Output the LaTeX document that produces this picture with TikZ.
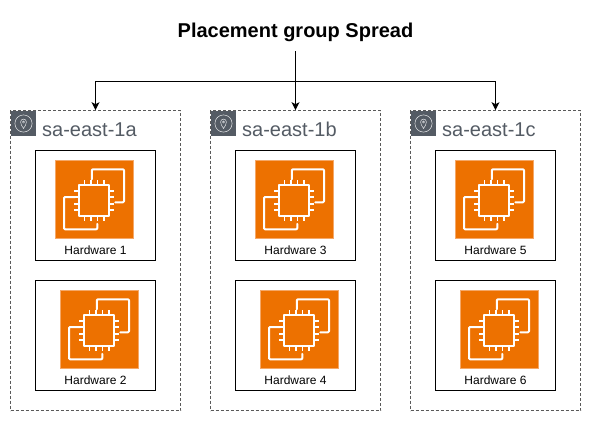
\documentclass[tikz,border=0pt]{standalone}
\usepackage{fontspec}
\setmainfont{Liberation Sans}
\usetikzlibrary{arrows.meta}
\definecolor{ec2orange}{HTML}{ED7100}
\definecolor{ec2edge}{HTML}{F5A868}
\definecolor{zonegrey}{HTML}{545B64}
\tikzset{
  x=1pt,y=-1pt,
  zonebox/.style={draw=black!65,dashed,dash pattern=on 3pt off 2pt,line width=0.7pt,minimum width=170pt,minimum height=300pt,inner sep=0pt},
  hwbox/.style={draw=black,line width=0.9pt,minimum width=120pt,minimum height=110pt,inner sep=0pt},
  hwlabel/.style={font=\fontsize{12}{14}\selectfont,inner sep=0pt,text=black},
  zonelabel/.style={font=\fontsize{20}{24}\selectfont,text=zonegrey,inner sep=0pt,anchor=west},
  titlenode/.style={font=\bfseries\fontsize{20}{24}\selectfont,inner sep=0pt,minimum height=38pt},
  link/.style={draw=black,line width=0.9pt,-{Stealth[length=8pt,width=8pt,inset=2pt]}},
  whiteline/.style={draw=white,line width=2pt,line join=round,line cap=round},
  ec2icon/.pic={
    \path[fill=ec2orange,draw=ec2edge,line width=0.7pt] (0,0) rectangle (78,78);
    \path[whiteline,rounded corners=1pt] (36.5,19) -- (36.5,9) -- (68.7,9) -- (68.7,42) -- (60,42);
    \path[whiteline,rounded corners=1pt] (20,36.7) -- (8.7,36.7) -- (8.7,69) -- (42,69) -- (42,63.5);
    \path[whiteline,line width=2.2pt] (23.8,25) rectangle (54,55.3);
    \foreach \p in {5.5,12,18.5,25}{
      \path[whiteline,line width=1.7pt,line cap=butt] (23.8+\p,25) -- (23.8+\p,20);
      \path[whiteline,line width=1.7pt,line cap=butt] (23.8+\p,55.3) -- (23.8+\p,60.3);
      \path[whiteline,line width=1.7pt,line cap=butt] (23.8,25+\p) -- (18.8,25+\p);
      \path[whiteline,line width=1.7pt,line cap=butt] (54,25+\p) -- (59,25+\p);
    }
  },
  zonetag/.pic={
    \path[fill=zonegrey] (0,0) rectangle (25,25);
    \path[draw=white!85!zonegrey,line width=0.5pt] (12.5,12.5) circle (8.6);
    \path[draw=white!85!zonegrey,line width=0.5pt,line join=round] (12.5,17.5) .. controls (11,15) and (9.6,13.3) .. (9.6,11) .. controls (9.6,9.2) and (10.9,8.1) .. (12.5,8.1) .. controls (14.1,8.1) and (15.4,9.2) .. (15.4,11) .. controls (15.4,13.3) and (14,15) .. (12.5,17.5) -- cycle;
    \path[draw=white!85!zonegrey,line width=0.5pt] (12.5,11) circle (1.1);
  }
}
\begin{document}
\begin{tikzpicture}
\useasboundingbox (0,0) rectangle (591,421);

\node[titlenode] (title) at (295.5,32) {Placement group Spread};

\node[zonebox] (zoneA) at (95.5,260.5) {};
\node[zonebox] (zoneB) at (295.5,260.5) {};
\node[zonebox] (zoneC) at (495.5,260.5) {};

\coordinate (bus) at (295.5,81);
\draw[link] (title.south) -- (zoneB.north);
\draw[link] (bus) -| (zoneA.north);
\draw[link] (bus) -| (zoneC.north);

\pic at (11,111) {zonetag};
\pic at (211,111) {zonetag};
\pic at (411,111) {zonetag};
\node[zonelabel] (labA) at (42,129.5) {sa-east-1a};
\node[zonelabel] (labB) at (242,129.5) {sa-east-1b};
\node[zonelabel] (labC) at (442,129.5) {sa-east-1c};

\node[hwbox] (hw1) at (95.5,205.5) {};
\node[hwbox] (hw2) at (95.5,335.5) {};
\node[hwbox] (hw3) at (295.5,205.5) {};
\node[hwbox] (hw4) at (295.5,335.5) {};
\node[hwbox] (hw5) at (495.5,205.5) {};
\node[hwbox] (hw6) at (495.5,335.5) {};

\pic at (55.3,160.3) {ec2icon};
\pic at (60.3,290.3) {ec2icon};
\pic at (255.3,160.3) {ec2icon};
\pic at (260.3,290.3) {ec2icon};
\pic at (455.3,160.3) {ec2icon};
\pic at (460.3,290.3) {ec2icon};

\node[hwlabel] (t1) at (95.5,250.5) {Hardware 1};
\node[hwlabel] (t2) at (95.5,380.5) {Hardware 2};
\node[hwlabel] (t3) at (295.5,250.5) {Hardware 3};
\node[hwlabel] (t4) at (295.5,380.5) {Hardware 4};
\node[hwlabel] (t5) at (495.5,250.5) {Hardware 5};
\node[hwlabel] (t6) at (495.5,380.5) {Hardware 6};
\end{tikzpicture}
\end{document}
